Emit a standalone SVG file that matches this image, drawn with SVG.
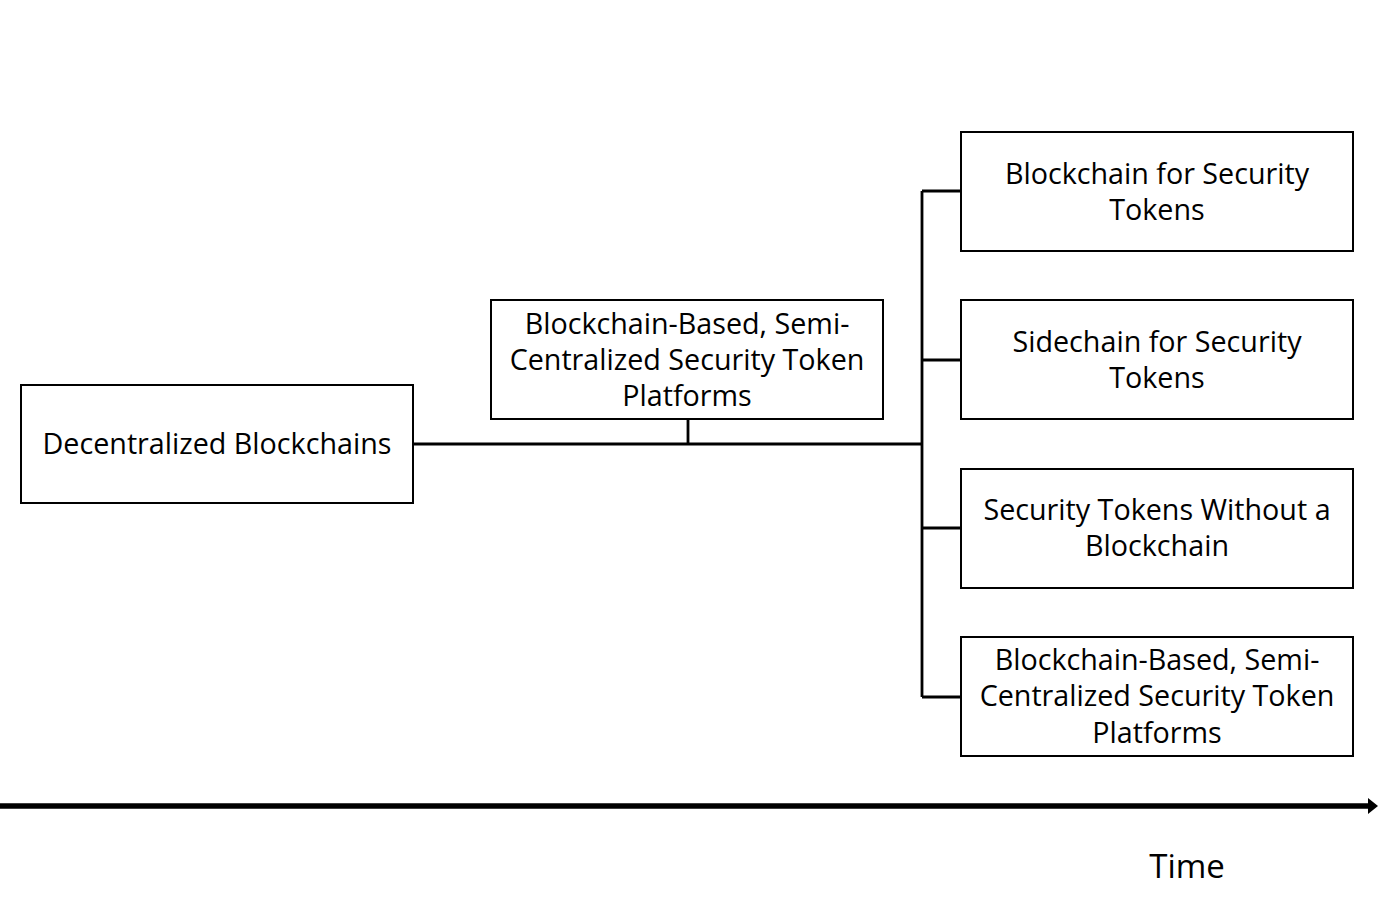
<svg xmlns="http://www.w3.org/2000/svg" width="1398" height="912" viewBox="0 0 1398 912">
<style>
.box{fill:#fff;stroke:#000;stroke-width:2}
.t{font-family:"Open Sans","Noto Sans","Liberation Sans",sans-serif;font-size:28.7px;fill:#000;text-anchor:middle}
.c{fill:none;stroke:#000;stroke-width:2.8}
</style>
<defs>
<marker id="ah" markerWidth="10" markerHeight="16" refX="0" refY="8" orient="auto" markerUnits="userSpaceOnUse">
<path d="M0,0 L10,8 L0,16 Z" fill="#000"/>
</marker>
</defs>
<rect width="1398" height="912" fill="#fff"/>
<g id="connectors">
<path class="c" d="M413,444 H922"/>
<path class="c" d="M688,419 V444"/>
<path class="c" d="M922,191 V697"/>
<path class="c" d="M922,191 H961 M922,360 H961 M922,528 H961 M922,697 H961"/>
<path d="M0,806 H1368" stroke="#000" stroke-width="5.5" marker-end="url(#ah)"/>
</g>
<g id="n1">
<rect class="box" x="21" y="385" width="392" height="118"/>
<text class="t" x="217" y="454">Decentralized Blockchains</text>
</g>
<g id="n2">
<rect class="box" x="491" y="300" width="392" height="119"/>
<text class="t" x="687" y="334">Blockchain-Based, Semi-</text>
<text class="t" x="687" y="370">Centralized Security Token</text>
<text class="t" x="687" y="406">Platforms</text>
</g>
<g id="n3">
<rect class="box" x="961" y="132" width="392" height="119"/>
<text class="t" x="1157" y="184">Blockchain for Security</text>
<text class="t" x="1157" y="220">Tokens</text>
</g>
<g id="n4">
<rect class="box" x="961" y="300" width="392" height="119"/>
<text class="t" x="1157" y="352">Sidechain for Security</text>
<text class="t" x="1157" y="388">Tokens</text>
</g>
<g id="n5">
<rect class="box" x="961" y="469" width="392" height="119"/>
<text class="t" x="1157" y="520">Security Tokens Without a</text>
<text class="t" x="1157" y="556">Blockchain</text>
</g>
<g id="n6">
<rect class="box" x="961" y="637" width="392" height="119"/>
<text class="t" x="1157" y="670">Blockchain-Based, Semi-</text>
<text class="t" x="1157" y="706">Centralized Security Token</text>
<text class="t" x="1157" y="743">Platforms</text>
</g>
<g id="time">
<text x="1187" y="878" style="font-family:'Open Sans','Noto Sans',sans-serif;font-size:33px;text-anchor:middle">Time</text>
</g>
</svg>
